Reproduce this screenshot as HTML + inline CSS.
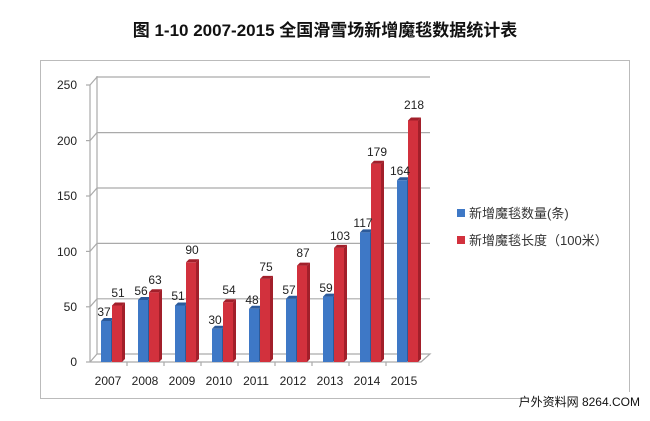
<!DOCTYPE html>
<html><head><meta charset="utf-8"><style>
body{margin:0;background:#fff;}
svg text{font-family:"Liberation Sans","Noto Sans CJK SC",sans-serif;}
</style></head><body>
<svg width="650" height="416" viewBox="0 0 650 416" xmlns="http://www.w3.org/2000/svg">
<rect width="650" height="416" fill="#fff"/>
<text x="325" y="36" text-anchor="middle" font-size="17" font-weight="bold" fill="#111">图 1-10 2007-2015 全国滑雪场新增魔毯数据统计表</text>
<rect x="40.5" y="60.5" width="589" height="338" fill="#fff" stroke="#bbb" stroke-width="1"/>
<g stroke="#aaa" stroke-width="1.2" fill="none">
<line x1="97" y1="76" x2="97" y2="354"/>
<line x1="90" y1="85" x2="90" y2="362"/>
<polyline points="90,85 97,77 430,77"/>
<polyline points="90,140.6 97,132.6 430,132.6"/>
<polyline points="90,196 97,188 430,188"/>
<polyline points="90,251.4 97,243.4 430,243.4"/>
<polyline points="90,306.8 97,298.8 430,298.8"/>
<polyline points="90,362 97,354 430,354 421,362 90,362"/>
<line x1="86" y1="85" x2="90" y2="85"/><line x1="86" y1="140.6" x2="90" y2="140.6"/><line x1="86" y1="196" x2="90" y2="196"/><line x1="86" y1="251.4" x2="90" y2="251.4"/><line x1="86" y1="306.8" x2="90" y2="306.8"/><line x1="86" y1="362" x2="90" y2="362"/>
<line x1="127" y1="362" x2="127" y2="366"/><line x1="164" y1="362" x2="164" y2="366"/><line x1="201" y1="362" x2="201" y2="366"/><line x1="238" y1="362" x2="238" y2="366"/><line x1="275" y1="362" x2="275" y2="366"/><line x1="312" y1="362" x2="312" y2="366"/><line x1="349" y1="362" x2="349" y2="366"/><line x1="386" y1="362" x2="386" y2="366"/>
</g>
<g font-size="12" fill="#222" text-anchor="end">
<text x="77" y="89">250</text><text x="77" y="145">200</text><text x="77" y="200">150</text><text x="77" y="256">100</text><text x="77" y="311">50</text><text x="77" y="366">0</text>
</g>
<g font-size="12" fill="#222" text-anchor="middle">
<text x="108" y="385">2007</text><text x="145" y="385">2008</text><text x="182" y="385">2009</text><text x="219" y="385">2010</text><text x="256" y="385">2011</text><text x="293" y="385">2012</text><text x="330" y="385">2013</text><text x="367" y="385">2014</text><text x="404" y="385">2015</text>
</g>
<!-- blue bars -->
<g fill="#3e78c6">
<rect x="101" y="321" width="10" height="41"/>
<rect x="138" y="300" width="10" height="62"/>
<rect x="175" y="305.5" width="10" height="56.5"/>
<rect x="212" y="328.8" width="10" height="33.2"/>
<rect x="249" y="308.8" width="10" height="53.2"/>
<rect x="286" y="298.8" width="10" height="63.2"/>
<rect x="323" y="296.6" width="10" height="65.4"/>
<rect x="360" y="232.4" width="10" height="129.6"/>
<rect x="397" y="180.3" width="10" height="181.7"/>
</g>
<g fill="#2c5a9a">
<polygon points="111,321 114,318 114,359 111,362"/><polygon points="101,321 104,318 114,318 111,321"/>
<polygon points="148,300 151,297 151,359 148,362"/><polygon points="138,300 141,297 151,297 148,300"/>
<polygon points="185,305.5 188,302.5 188,359 185,362"/><polygon points="175,305.5 178,302.5 188,302.5 185,305.5"/>
<polygon points="222,328.8 225,325.8 225,359 222,362"/><polygon points="212,328.8 215,325.8 225,325.8 222,328.8"/>
<polygon points="259,308.8 262,305.8 262,359 259,362"/><polygon points="249,308.8 252,305.8 262,305.8 259,308.8"/>
<polygon points="296,298.8 299,295.8 299,359 296,362"/><polygon points="286,298.8 289,295.8 299,295.8 296,298.8"/>
<polygon points="333,296.6 336,293.6 336,359 333,362"/><polygon points="323,296.6 326,293.6 336,293.6 333,296.6"/>
<polygon points="370,232.4 373,229.4 373,359 370,362"/><polygon points="360,232.4 363,229.4 373,229.4 370,232.4"/>
<polygon points="407,180.3 410,177.3 410,359 407,362"/><polygon points="397,180.3 400,177.3 410,177.3 407,180.3"/>
</g>
<!-- red bars -->
<g fill="#d2313d">
<rect x="112" y="305.5" width="10" height="56.5"/>
<rect x="149" y="292.2" width="10" height="69.8"/>
<rect x="186" y="262.3" width="10" height="99.7"/>
<rect x="223" y="302.2" width="10" height="59.8"/>
<rect x="260" y="278.9" width="10" height="83.1"/>
<rect x="297" y="265.6" width="10" height="96.4"/>
<rect x="334" y="247.9" width="10" height="114.1"/>
<rect x="371" y="163.7" width="10" height="198.3"/>
<rect x="408" y="120.5" width="10" height="241.5"/>
</g>
<g fill="#a21f2a">
<polygon points="122,305.5 125,302.5 125,359 122,362"/><polygon points="112,305.5 115,302.5 125,302.5 122,305.5"/>
<polygon points="159,292.2 162,289.2 162,359 159,362"/><polygon points="149,292.2 152,289.2 162,289.2 159,292.2"/>
<polygon points="196,262.3 199,259.3 199,359 196,362"/><polygon points="186,262.3 189,259.3 199,259.3 196,262.3"/>
<polygon points="233,302.2 236,299.2 236,359 233,362"/><polygon points="223,302.2 226,299.2 236,299.2 233,302.2"/>
<polygon points="270,278.9 273,275.9 273,359 270,362"/><polygon points="260,278.9 263,275.9 273,275.9 270,278.9"/>
<polygon points="307,265.6 310,262.6 310,359 307,362"/><polygon points="297,265.6 300,262.6 310,262.6 307,265.6"/>
<polygon points="344,247.9 347,244.9 347,359 344,362"/><polygon points="334,247.9 337,244.9 347,244.9 344,247.9"/>
<polygon points="381,163.7 384,160.7 384,359 381,362"/><polygon points="371,163.7 374,160.7 384,160.7 381,163.7"/>
<polygon points="418,120.5 421,117.5 421,359 418,362"/><polygon points="408,120.5 411,117.5 421,117.5 418,120.5"/>
</g>
<g font-size="12" fill="#222" text-anchor="middle">
<text x="104" y="316">37</text><text x="141" y="295">56</text><text x="178" y="300">51</text><text x="215" y="324">30</text><text x="252" y="304">48</text><text x="289" y="294">57</text><text x="326" y="292">59</text><text x="363" y="227">117</text><text x="400" y="175">164</text>
<text x="118" y="297">51</text><text x="155" y="284">63</text><text x="192" y="254">90</text><text x="229" y="294">54</text><text x="266" y="271">75</text><text x="303" y="257">87</text><text x="340" y="240">103</text><text x="377" y="156">179</text><text x="414" y="109">218</text>
</g>
<rect x="457" y="209" width="8" height="8" fill="#3e78c6"/>
<text x="469" y="218" font-size="13" fill="#333">新增魔毯数量(条)</text>
<rect x="457" y="236" width="8" height="8" fill="#d2313d"/>
<text x="469" y="245" font-size="13" fill="#333">新增魔毯长度（100米）</text>
<rect x="522" y="392" width="128" height="18" fill="#fff"/>
<text x="640" y="406" font-size="12" fill="#111" text-anchor="end">户外资料网 8264.COM</text>
</svg>
</body></html>
